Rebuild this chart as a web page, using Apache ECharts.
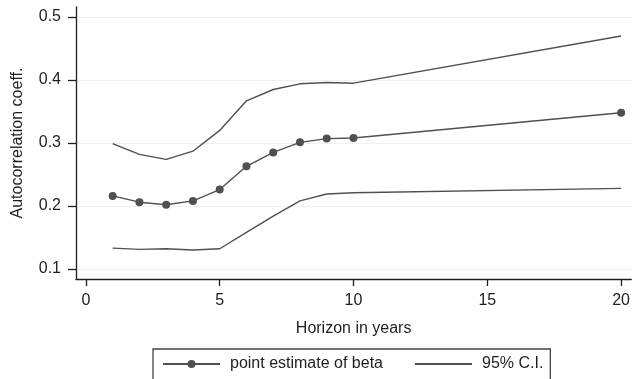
<!DOCTYPE html>
<html>
<head>
<meta charset="utf-8">
<script src="https://cdn.jsdelivr.net/npm/echarts@6/dist/echarts.min.js"></script>
<style>
  html, body { margin: 0; padding: 0; background: #fff; }
  #chart { width: 633px; height: 379px; }
</style>
</head>
<body>
<div id="chart"></div>
<script>
// Horizon (years) and the estimated autocorrelation with its 95% band
const horizons = [1, 2, 3, 4, 5, 6, 7, 8, 9, 10, 20];
const pointEstimate = [0.216, 0.206, 0.202, 0.208, 0.226, 0.263, 0.285, 0.301, 0.307, 0.308, 0.348];
const ciUpper = [0.299, 0.282, 0.274, 0.287, 0.320, 0.367, 0.385, 0.394, 0.396, 0.395, 0.470];
const ciLower = [0.133, 0.131, 0.132, 0.130, 0.132, 0.158, 0.184, 0.208, 0.219, 0.221, 0.228];
const xTicks = [0, 5, 10, 15, 20];
const yTicks = [0.1, 0.2, 0.3, 0.4, 0.5];

const pairs = (ys) => horizons.map((h, i) => [h, ys[i]]);

const FONT = '"Liberation Sans", Arial, Helvetica, sans-serif';
const INK = '#1e1e1e';
const LINE = '#505050';

const chart = echarts.init(document.getElementById('chart'), null, { renderer: 'canvas' });

chart.setOption({
  animation: false,
  backgroundColor: '#ffffff',
  textStyle: { fontFamily: FONT },
  grid: { left: 76, top: 7, right: 1, bottom: 100, containLabel: false },
  xAxis: {
    type: 'value',
    min: -0.37,
    max: 20.38,
    name: 'Horizon in years',
    nameLocation: 'middle',
    nameGap: 42,
    nameTextStyle: { fontSize: 16, color: INK, fontFamily: FONT },
    axisLine: { show: true, onZero: false, lineStyle: { color: INK, width: 1.3 } },
    axisTick: { show: true, length: 7, customValues: xTicks, lineStyle: { color: INK, width: 1.3 } },
    axisLabel: { customValues: xTicks, fontSize: 16, color: INK, margin: 14, fontFamily: FONT },
    splitLine: { show: false }
  },
  yAxis: {
    type: 'value',
    min: 0.084,
    max: 0.516,
    name: 'Autocorrelation coeff.',
    nameLocation: 'middle',
    nameGap: 50,
    nameRotate: 90,
    nameTextStyle: { fontSize: 16, color: INK, fontFamily: FONT },
    axisLine: { show: true, onZero: false, lineStyle: { color: INK, width: 1.3 } },
    axisTick: { show: true, length: 8, customValues: yTicks, lineStyle: { color: INK, width: 1.3 } },
    axisLabel: {
      customValues: yTicks, fontSize: 16, color: INK, margin: 15, fontFamily: FONT,
      formatter: (v) => v.toFixed(1)
    },
    splitLine: { show: true, lineStyle: { color: '#f0f0f0', width: 1 } }
  },
  legend: {
    orient: 'horizontal',
    left: 153,
    top: 349,
    padding: [7, 7, 14, 9],
    itemGap: 31,
    itemWidth: 57,
    itemHeight: 10,
    borderColor: '#444',
    borderWidth: 1.3,
    borderRadius: 0,
    textStyle: { fontSize: 16, color: INK, fontFamily: FONT, padding: [0, 0, 0, 5] },
    data: [
      { name: 'point estimate of beta' },
      { name: '95% C.I.', itemStyle: { opacity: 0 } }
    ]
  },
  series: [
    {
      name: 'point estimate of beta',
      type: 'line',
      data: pairs(pointEstimate),
      symbol: 'circle',
      symbolSize: 8,
      showSymbol: true,
      lineStyle: { color: LINE, width: 1.4 },
      itemStyle: { color: LINE },
      z: 3
    },
    {
      name: '95% C.I.',
      type: 'line',
      data: pairs(ciUpper),
      symbol: 'none',
      lineStyle: { color: LINE, width: 1.4 },
      itemStyle: { color: LINE }
    },
    {
      name: '95% C.I.',
      type: 'line',
      data: pairs(ciLower),
      symbol: 'none',
      lineStyle: { color: LINE, width: 1.4 },
      itemStyle: { color: LINE }
    }
  ]
});
</script>
</body>
</html>
